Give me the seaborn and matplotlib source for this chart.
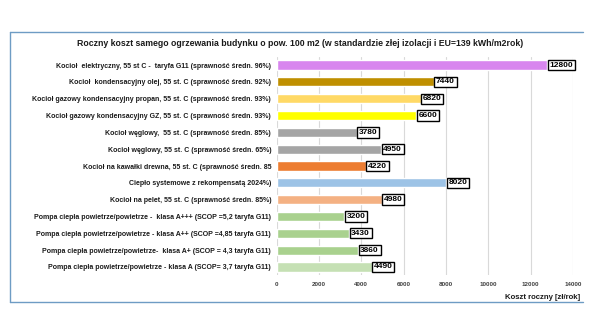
import matplotlib
matplotlib.use("Agg")
import matplotlib.pyplot as plt
import seaborn as sns
import pandas as pd
from matplotlib.lines import Line2D

# data
labels = [
    "Kocioł  elektryczny, 55 st C -  taryfa G11 (sprawność średn. 96%)",
    "Kocioł  kondensacyjny olej, 55 st. C (sprawność średn. 92%)",
    "Kocioł gazowy kondensacyjny propan, 55 st. C (sprawność średn. 93%)",
    "Kocioł gazowy kondensacyjny GZ, 55 st. C (sprawność średn. 93%)",
    "Kocioł węglowy,  55 st. C (sprawność średn. 85%)",
    "Kocioł węglowy, 55 st. C (sprawność średn. 65%)",
    "Kocioł na kawałki drewna, 55 st. C (sprawność średn. 85",
    "Ciepło systemowe z rekompensatą 2024%)",
    "Kocioł na pelet, 55 st. C (sprawność średn. 85%)",
    "Pompa ciepła powietrze/powietrze -  klasa A+++ (SCOP =5,2 taryfa G11)",
    "Pompa ciepła powietrze/powietrze - klasa A++ (SCOP =4,85 taryfa G11)",
    "Pompa ciepła powietrze/powietrze-  klasa A+ (SCOP = 4,3 taryfa G11)",
    "Pompa ciepła powietrze/powietrze - klasa A (SCOP= 3,7 taryfa G11)",
]
costs = [12800, 7440, 6820, 6600, 3780, 4950, 4220, 8020, 4980, 3200, 3430, 3860, 4490]
colors = ["#D886EE", "#BF8F00", "#FFD966", "#FFFF00", "#A5A5A5", "#A5A5A5",
          "#ED7D31", "#9DC3E6", "#F4B183", "#A9D18E", "#A9D18E", "#A9D18E", "#C5E0B4"]
ticks = [0, 2000, 4000, 6000, 8000, 10000, 12000, 14000]

df = pd.DataFrame({"label": labels, "cost": costs})

sns.set_theme(style="white")
plt.rcParams["font.family"] = ["Liberation Sans", "DejaVu Sans"]

fig = plt.figure(figsize=(6.03, 3.33), dpi=100)
ax = fig.add_axes([0.459, 0.173, 0.491, 0.657])

sns.barplot(data=df, x="cost", y="label", hue="label", palette=colors,
            saturation=1, legend=False, width=0.55, ax=ax, zorder=3)

ax.set_xlim(0, 14000)
ax.set_xticks(ticks)
ax.set_xticklabels([str(t) for t in ticks], fontsize=4.5, fontweight="bold", color="#404040")
ax.tick_params(axis="x", length=0, pad=5)
ax.tick_params(axis="y", length=0, pad=4)
for t in ax.get_yticklabels():
    t.set_fontsize(5.0)
    t.set_fontweight("bold")
    t.set_color("#1a1a1a")
ax.grid(axis="x", color="#D9D9D9", linewidth=0.8, zorder=0)
ax.set_axisbelow(True)
for s in ax.spines.values():
    s.set_visible(False)
ax.set_ylabel("")
ax.set_xlabel("")

for i, v in enumerate(costs):
    ax.text(v + 90, i, str(v), va="center", ha="left", fontsize=6.0, fontweight="bold",
            color="black", zorder=5,
            bbox=dict(boxstyle="square,pad=0.2", facecolor="white", edgecolor="black", linewidth=1.0))

fig.text(0.497, 0.870, "Roczny koszt samego ogrzewania budynku o pow. 100 m2 (w standardzie złej izolacji i EU=139 kWh/m2rok)",
         ha="center", va="center", fontsize=6.3, fontweight="bold", color="#1a1a1a")
fig.text(0.962, 0.107, "Koszt roczny [zł/rok]", ha="right", va="center",
         fontsize=5.6, fontweight="bold", color="#1a1a1a")

# chart frame (left, top and bottom lines)
frame_color = "#6E9CC4"
x0, x1 = 10 / 603, 583 / 603
y0, y1 = 1 - 302 / 333, 1 - 32 / 333
fig.add_artist(Line2D([x0, x1], [y1, y1], color=frame_color, linewidth=1.0, transform=fig.transFigure))
fig.add_artist(Line2D([x0, x1], [y0, y0], color=frame_color, linewidth=1.0, transform=fig.transFigure))
fig.add_artist(Line2D([x0, x0], [y0, y1], color=frame_color, linewidth=1.0, transform=fig.transFigure))

fig.savefig("out.png", dpi=100, facecolor="white")
